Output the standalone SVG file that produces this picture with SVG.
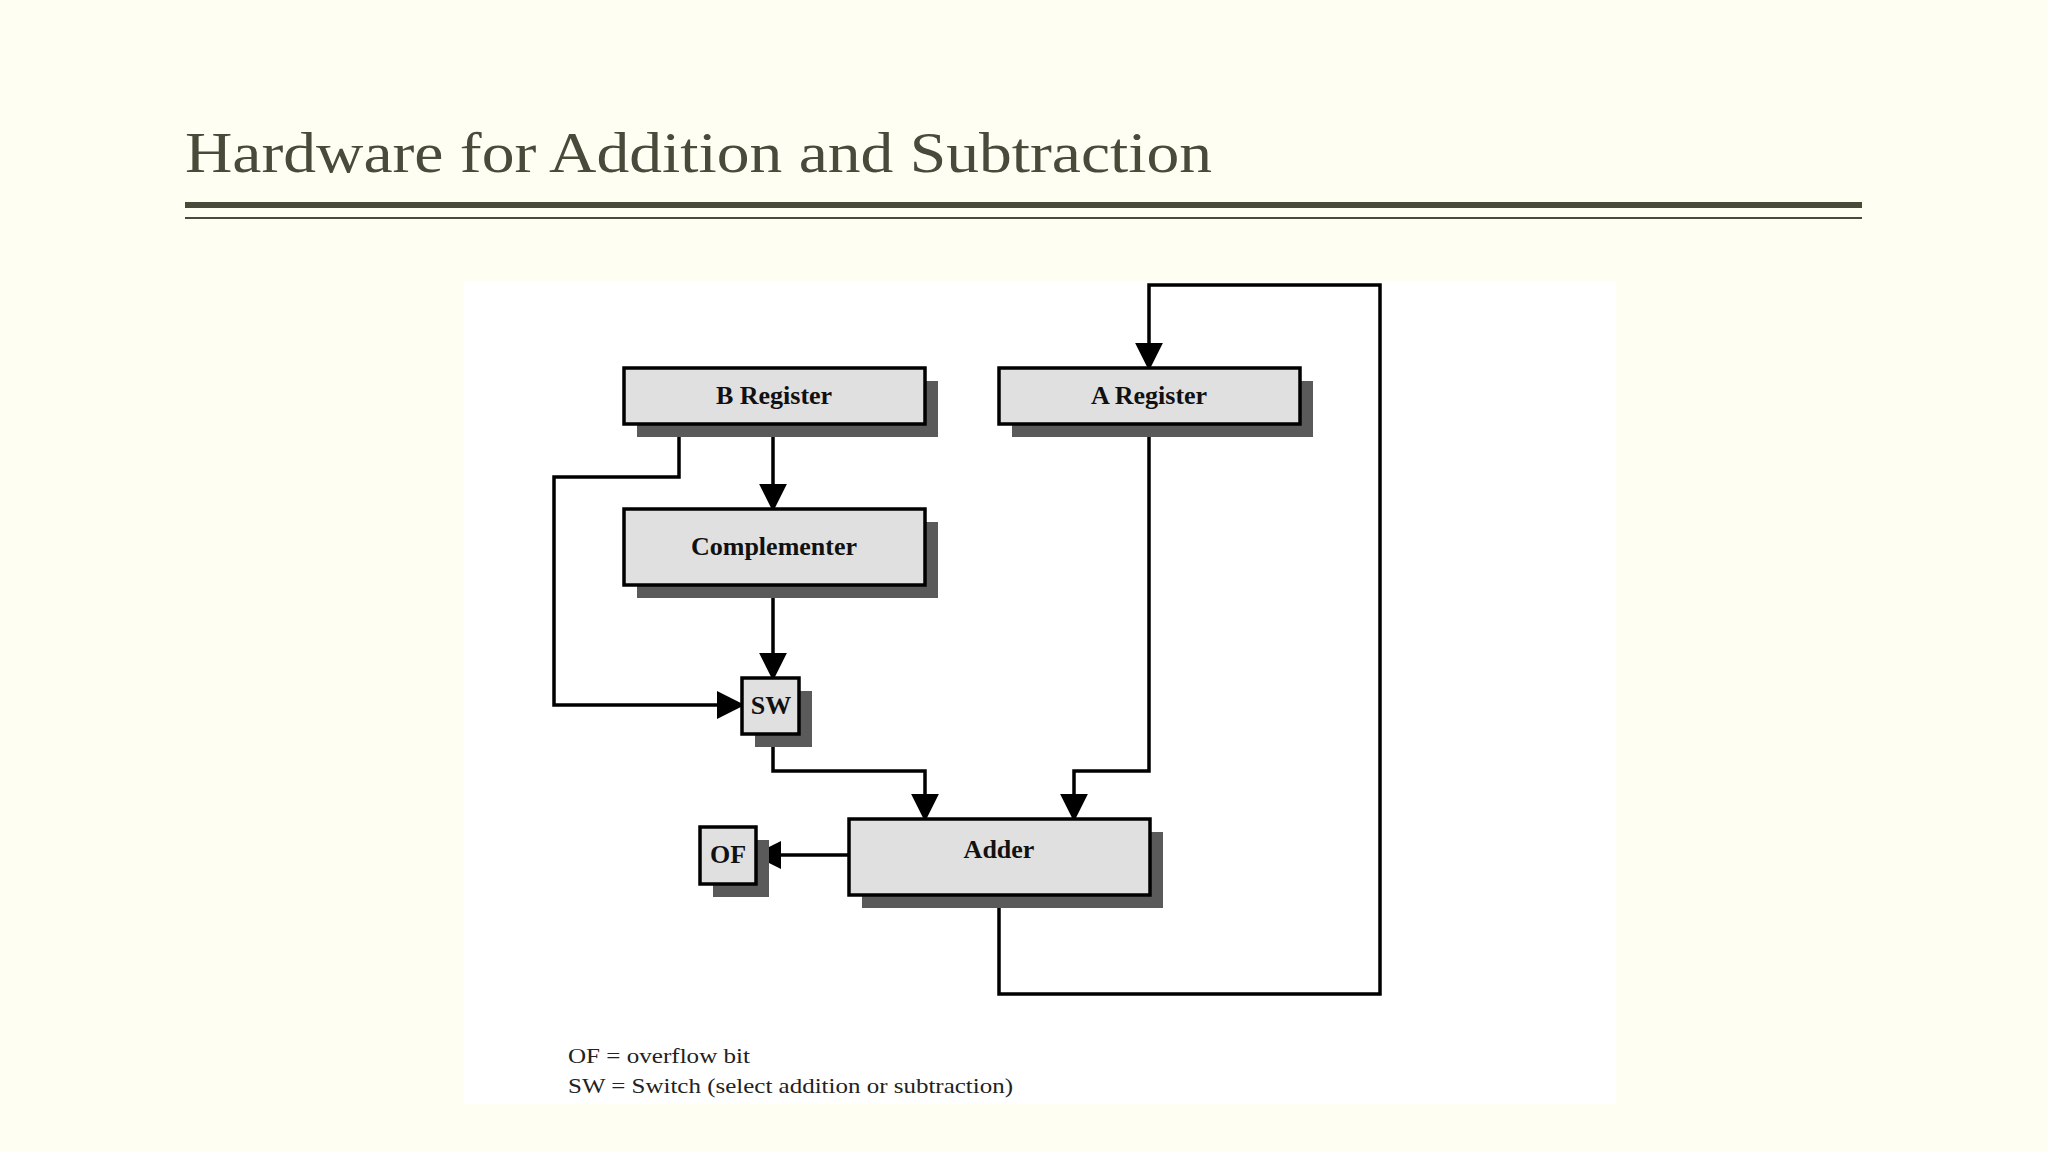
<svg xmlns="http://www.w3.org/2000/svg" width="2048" height="1152" viewBox="0 0 2048 1152">
<defs>
<style>
.box{fill:#e0e0e0;stroke:#000;stroke-width:3.5}
.sh{fill:#5a5a5a}
.lbl{font-family:"Liberation Serif",serif;font-weight:bold;font-size:26px;text-anchor:middle;fill:#111}
.ln{fill:none;stroke:#000;stroke-width:3.5}
.lg{font-family:"Liberation Serif",serif;font-size:22px;fill:#222}
</style>
<marker id="a" viewBox="0 0 10 10" refX="9" refY="5" markerWidth="8" markerHeight="8" orient="auto"><path d="M0,0 L10,5 L0,10 z" fill="#000"/></marker>
</defs>
<rect width="2048" height="1152" fill="#fefef3"/>
<text x="185" y="172" font-family="Liberation Serif,serif" font-size="58" fill="#4a4a3a" textLength="1027" lengthAdjust="spacingAndGlyphs">Hardware for Addition and Subtraction</text>
<rect x="185" y="202" width="1677" height="6" fill="#4a4a3a"/>
<rect x="185" y="217" width="1677" height="2" fill="#4a4a3a"/>
<rect x="464" y="281" width="1152" height="823" fill="#fff"/>
<g id="connectors" class="ln" marker-end="url(#a)">
<path d="M773 424 V509"/>
<path d="M679 424 V477 H554 V705 H742"/>
<path d="M773 585 V678"/>
<path d="M773 734 V771 H925 V819"/>
<path d="M1149 424 V771 H1074 V819"/>
<path d="M849 855 H756"/>
<path d="M999 895 V994 H1380 V285 H1149 V368"/>
</g>
<g id="breg"><rect class="sh" x="637" y="381" width="301" height="56"/><rect class="box" x="624" y="368" width="301" height="56"/><text class="lbl" x="774" y="404">B Register</text></g>
<g id="areg"><rect class="sh" x="1012" y="381" width="301" height="56"/><rect class="box" x="999" y="368" width="301" height="56"/><text class="lbl" x="1149" y="404">A Register</text></g>
<g id="comp"><rect class="sh" x="637" y="522" width="301" height="76"/><rect class="box" x="624" y="509" width="301" height="76"/><text class="lbl" x="774" y="555">Complementer</text></g>
<g id="sw"><rect class="sh" x="755" y="691" width="57" height="56"/><rect class="box" x="742" y="678" width="57" height="56"/><text class="lbl" x="771" y="714">SW</text></g>
<g id="of"><rect class="sh" x="713" y="840" width="56" height="57"/><rect class="box" x="700" y="827" width="56" height="57"/><text class="lbl" x="728" y="863">OF</text></g>
<g id="adder"><rect class="sh" x="862" y="832" width="301" height="76"/><rect class="box" x="849" y="819" width="301" height="76"/><text class="lbl" x="999" y="858">Adder</text></g>
<text class="lg" x="568" y="1063" textLength="182" lengthAdjust="spacingAndGlyphs">OF = overflow bit</text>
<text class="lg" x="568" y="1093" textLength="445" lengthAdjust="spacingAndGlyphs">SW = Switch (select addition or subtraction)</text>
</svg>
